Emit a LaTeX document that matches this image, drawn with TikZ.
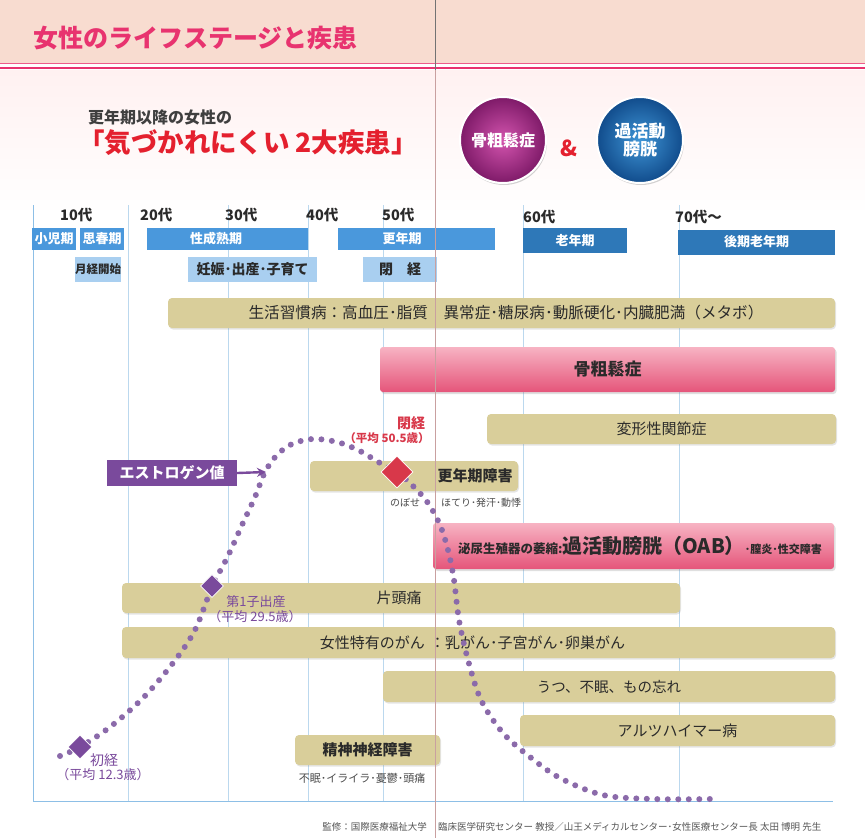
\documentclass[tikz,border=0pt]{standalone}
\usepackage{fontspec}
\setmainfont{Noto Sans CJK JP}
\usetikzlibrary{shapes.geometric,arrows.meta,shadows}
\newcommand\myfs[1]{\fontsize{#1}{#1}\selectfont}
\definecolor{peach}{HTML}{F8DCD0}
\definecolor{titlepink}{HTML}{E8336F}
\definecolor{lineblue}{HTML}{8DBFE6}
\definecolor{gridblue}{HTML}{BBD8EE}
\definecolor{stageblue}{HTML}{4A98DC}
\definecolor{darkstage}{HTML}{2E78B8}
\definecolor{lightstage}{HTML}{A9CFF0}
\definecolor{beige}{HTML}{D9CE9A}
\definecolor{pinkA}{HTML}{F7B3C3}
\definecolor{pinkB}{HTML}{F06A88}
\definecolor{pinkC}{HTML}{E5557A}
\definecolor{estro}{HTML}{7A4A9C}
\definecolor{dotpurple}{HTML}{8B6AAA}
\definecolor{menored}{HTML}{D8384A}
\definecolor{headred}{HTML}{E4202E}
\definecolor{foldline}{HTML}{C9A0A0}
\definecolor{txt}{HTML}{2A2A2A}
\definecolor{magin}{HTML}{D354AE}
\definecolor{magout}{HTML}{7E1A68}
\definecolor{bluin}{HTML}{3F95D6}
\definecolor{bluout}{HTML}{114C8C}
\begin{document}
\begin{tikzpicture}[x=1pt,y=-1pt,
  stagebar/.style={fill=stageblue,text=white,font=\myfs{13}\bfseries,inner sep=0pt,minimum height=22pt},
  oldbar/.style={fill=darkstage,text=white,font=\myfs{13}\bfseries,inner sep=0pt,minimum height=25pt},
  subbar/.style={fill=lightstage,text=txt,font=\myfs{14}\bfseries,inner sep=0pt,minimum height=25pt},
  agelab/.style={font=\myfs{14.5}\bfseries,text=txt,anchor=west,inner sep=0pt},
  beigebar/.style={fill=beige,rounded corners=4pt,inner sep=0pt,minimum height=30pt,text=txt,font=\myfs{15},
     drop shadow={opacity=0.2,shadow xshift=1pt,shadow yshift=-1.5pt}},
  pinkbar/.style={top color=pinkA,middle color=pinkB,bottom color=pinkC,rounded corners=3pt,inner sep=0pt,text=txt,
     drop shadow={opacity=0.25,shadow xshift=1.5pt,shadow yshift=-2pt}},
  smalltxt/.style={font=\myfs{10},text=txt!85,inner sep=0pt},
  purplab/.style={font=\myfs{13},text=estro,inner sep=0pt},
  dia/.style={diamond,inner sep=0pt,draw=white,line width=0.6pt},
  gridline/.style={draw=gridblue,line width=0.7pt},
  dotcurve/.style={draw=dotpurple,line width=6pt,line cap=round,dash pattern=on 0pt off 10.5pt}
]
\useasboundingbox (0,0) rectangle (865,838);
% background
\fill[white] (0,0) rectangle (865,838);
\fill[peach] (0,0) rectangle (865,63);
\shade[top color=pink!22,bottom color=white] (0,70) rectangle (865,215);
\draw[titlepink!80,line width=0.8pt] (0,63.5) -- (865,63.5);
\draw[titlepink,line width=2.5pt] (0,68) -- (865,68);
\node[font=\myfs{25}\bfseries,text=titlepink,anchor=west,inner sep=0pt] (title) at (33,38) {女性のライフステージと疾患};

% header
\node[font=\myfs{16}\bfseries,text=txt!90,anchor=west,inner sep=0pt] (sub) at (88,117) {更年期以降の女性の};
\node[font=\myfs{26.5}\bfseries,text=headred,anchor=west,inner sep=0pt] (head) at (78,143) {「気づかれにくい 2大疾患」};
\node[circle,minimum size=86pt,inner sep=0pt,draw=white,line width=2pt,inner color=magin,outer color=magout,
  drop shadow={opacity=0.35,shadow xshift=1pt,shadow yshift=-2pt},text=white,font=\myfs{16}\bfseries] (cos) at (503,140) {骨粗鬆症};
\node[font=\myfs{22}\bfseries,text=headred,inner sep=0pt] (amp) at (569,148) {\&};
\node[circle,minimum size=86pt,inner sep=0pt,draw=white,line width=2pt,inner color=bluin,outer color=bluout,
  drop shadow={opacity=0.35,shadow xshift=1pt,shadow yshift=-2pt},text=white,font=\myfs{17}\bfseries,align=center] (oab) at (640,140) {過活動\\[1pt]膀胱};

% grid
\draw[gridline] (128,205) -- (128,801);
\draw[gridline] (228,205) -- (228,801);
\draw[gridline] (308,205) -- (308,801);
\draw[gridline] (383,205) -- (383,801);
\draw[gridline] (523,205) -- (523,801);
\draw[gridline] (679,205) -- (679,801);
\draw[lineblue,line width=0.9pt] (33,205) -- (33,801) -- (833,801);

% age labels
\node[agelab] (a10) at (60,215) {10代};
\node[agelab] (a20) at (140,215) {20代};
\node[agelab] (a30) at (225,215) {30代};
\node[agelab] (a40) at (306,215) {40代};
\node[agelab] (a50) at (382,215) {50代};
\node[agelab] (a60) at (523,217) {60代};
\node[agelab] (a70) at (675,217) {70代〜};

% stage bars
\node[stagebar,minimum width=44pt] (child) at (54,239) {小児期};
\node[stagebar,minimum width=44pt] (puberty) at (102,239) {思春期};
\node[stagebar,minimum width=161pt] (mature) at (227.5,239) {};
\node[font=\myfs{13}\bfseries,text=white,inner sep=0pt] (maturet) at (216,239) {性成熟期};
\node[stagebar,minimum width=157pt] (meno) at (416.5,239) {};
\node[font=\myfs{13}\bfseries,text=white,inner sep=0pt] (menot) at (402,239) {更年期};
\node[oldbar,minimum width=104pt] (old) at (575,240.5) {老年期};
\node[oldbar,minimum width=157pt] (late) at (756.5,242) {後期老年期};

% sub bars
\node[subbar,minimum width=46pt,font=\myfs{11.5}\bfseries] (menarche) at (98,269.5) {月経開始};
\node[subbar,minimum width=129pt] (preg) at (252.5,269.5) {妊娠･出産･子育て};
\node[subbar,minimum width=74pt] (menop) at (400,269) {閉　経};

% disease bars
\node[beigebar,minimum width=667pt] (life) at (501.5,313) {};
\node[font=\myfs{15.6},text=txt,inner sep=0pt] (lifet) at (506,313) {生活習慣病：高血圧･脂質　異常症･糖尿病･動脈硬化･内臓肥満（メタボ）};
\node[pinkbar,minimum width=455pt,minimum height=45pt,font=\myfs{17}\bfseries] (osteo) at (607.5,369.5) {骨粗鬆症};
\node[beigebar,minimum width=349pt] (oa) at (661.5,429) {変形性関節症};
\node[beigebar,minimum width=208pt] (clim) at (414,476) {};
\node[font=\myfs{15}\bfseries,text=txt,inner sep=0pt] (climt) at (475,476) {更年期障害};
\node[smalltxt] (climsub) at (481,503) {ほてり･発汗･動悸};
\node[smalltxt] (nobose) at (405,503) {のぼせ};
\node[pinkbar,minimum width=401pt,minimum height=46pt] (oabbar) at (633.5,546) {};
\node[inner sep=0pt,text=txt] (oabt) at (640,546)
  {\bfseries{\myfs{12.5}泌尿生殖器の萎縮:}{\myfs{20}過活動膀胱（OAB）}{\myfs{11}･膣炎･性交障害}};
\node[beigebar,minimum width=558pt] (mig) at (401,598) {};
\node[font=\myfs{15},text=txt,inner sep=0pt] (migt) at (399,598) {片頭痛};
\node[beigebar,minimum width=713pt,minimum height=31pt] (cancer) at (478.5,642.5) {};
\node[font=\myfs{15},text=txt,inner sep=0pt,anchor=east] (cancert) at (425,642.5) {女性特有のがん};
\node[font=\myfs{15},text=txt,inner sep=0pt,anchor=west] (cancert2) at (430,642.5) {：乳がん･子宮がん･卵巣がん};
\node[beigebar,minimum width=452pt,minimum height=31pt,font=\myfs{14.5}] (dep) at (609,686.5) {うつ、不眠、もの忘れ};
\node[beigebar,minimum width=315pt,minimum height=31pt] (alz) at (677.5,730.5) {アルツハイマー病};
\node[beigebar,minimum width=145pt,font=\myfs{15}\bfseries] (psy) at (367.5,750) {精神神経障害};
\node[smalltxt,font=\myfs{11}] (psysub) at (362,778) {不眠･イライラ･憂鬱･頭痛};

% page fold
\draw[black!55,line width=0.8pt] (435,0) -- (435,70);
\draw[foldline,line width=0.8pt] (435,70) -- (435,838);

% estrogen curve
\draw[dotcurve] plot[smooth,tension=0.55] coordinates {(60,756) (80,747) (110,727) (143,698) (173,663) (195,630) (212,587) (228,556) (242,525) (255,497) (265,472) (277,455) (292,444) (313,439) (337,442) (358,450) (380,463) (397,472) (414,487) (428,503) (440,525) (448,550) (454,580) (459,620) (468,660) (481,700) (503,733) (530,757) (560,778) (603,795) (653,799) (712,799)};

% estrogen label
\node[fill=estro,text=white,font=\myfs{15}\bfseries,minimum width=130pt,minimum height=26pt,inner sep=0pt] (estro) at (172,473) {エストロゲン値};
\coordinate (curvept) at (266,472);
\draw[estro,line width=2.4pt,-{Stealth[length=9pt,width=9pt]}] (estro.east) -- (curvept);

% milestones
\node[dia,fill=menored,minimum size=32pt] (dmeno) at (397,472) {};
\node[font=\myfs{14}\bfseries,text=menored,inner sep=0pt] (menolab) at (411,423) {閉経};
\node[font=\myfs{11.5}\bfseries,text=menored,inner sep=0pt] (menoavg) at (387,438) {（平均 50.5歳）};
\node[dia,fill=estro,minimum size=23pt] (dbirth) at (212,586) {};
\node[purplab] (birthlab) at (256,602) {第1子出産};
\node[purplab] (birthavg) at (255,617) {（平均 29.5歳）};
\node[dia,fill=estro,minimum size=24pt] (dmenar) at (80,747) {};
\node[purplab,font=\myfs{14}] (menarlab) at (104,760) {初経};
\node[purplab] (menaravg) at (103,775) {（平均 12.3歳）};

% footer
\node[font=\myfs{9.5},text=txt!80,anchor=east,inner sep=0pt] (foot1) at (427,827) {監修：国際医療福祉大学};
\node[font=\myfs{9.5},text=txt!80,anchor=west,inner sep=0pt] (foot2) at (438,827) {臨床医学研究センター 教授／山王メディカルセンター･女性医療センター長 太田 博明 先生};
\end{tikzpicture}
\end{document}
